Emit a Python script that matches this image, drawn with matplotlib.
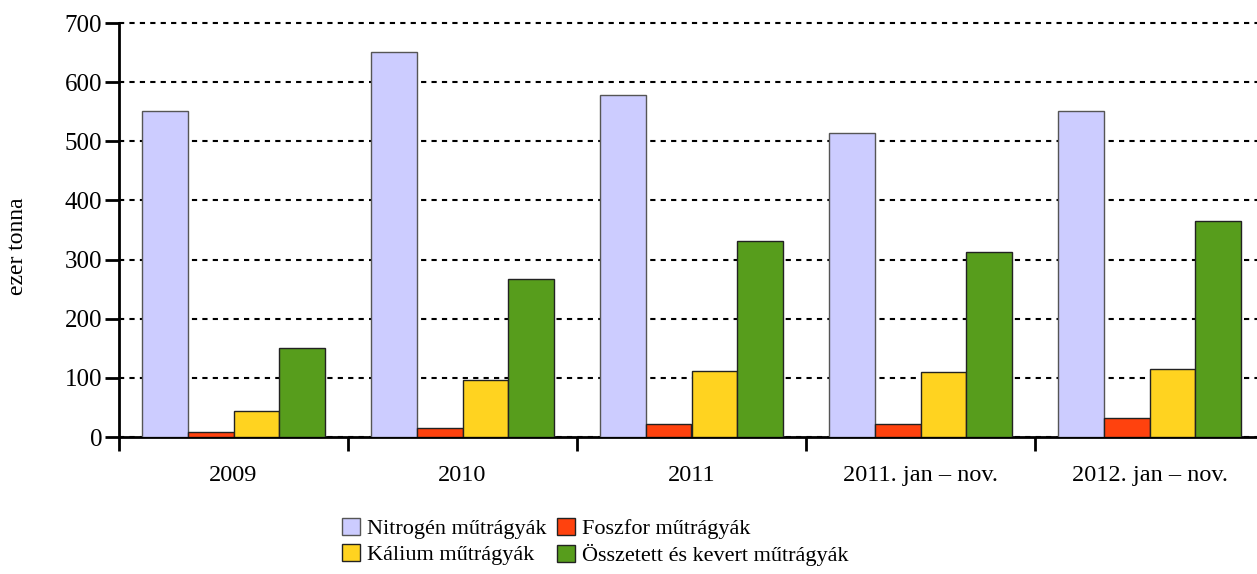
import matplotlib
matplotlib.use("Agg")
import matplotlib.pyplot as plt
import numpy as np

categories = ["2009", "2010", "2011", "2011. jan – nov.", "2012. jan – nov."]
series_names = ["Nitrogén műtrágyák", "Foszfor műtrágyák", "Kálium műtrágyák", "Összetett és kevert műtrágyák"]
nitrogen = [552, 651, 578, 514, 551]
foszfor = [9, 15, 22, 22, 32]
kalium = [44, 96, 112, 110, 115]
osszetett = [150, 267, 331, 313, 365]
colors = ["#CCCCFF", "#FF420E", "#FFD320", "#579D1C"]
edges = ["#555555", "#222222", "#222222", "#222222"]

plt.rcParams['font.family'] = ['Liberation Serif', 'DejaVu Serif']

fig = plt.figure(figsize=(12.57, 5.74), dpi=100)
ax = fig.add_axes([119/1257, 1-437/574, 1145/1257, (437-23)/574])

x = np.arange(len(categories))
w = 0.2
data = [nitrogen, foszfor, kalium, osszetett]
bars = []
for i, (vals, c, e, name) in enumerate(zip(data, colors, edges, series_names)):
    b = ax.bar(x - 0.3 + i * w, vals, w, color=c, edgecolor=e, linewidth=1.0, label=name, zorder=3)
    bars.append(b)

ax.set_xlim(-0.5, len(categories) - 0.5)
ax.set_ylim(0, 700)
ax.set_yticks(range(0, 701, 100))
ax.yaxis.grid(True, color='black', linestyle=(0, (2.5, 2.5)), linewidth=1.5, zorder=0)
for gl in ax.get_ygridlines():
    gl.set_clip_on(False)
ax.set_axisbelow(True)

ax.set_xticks(np.arange(-0.5, len(categories), 1.0))
ax.set_xticklabels([])
ax.set_xticks(x, minor=True)
ax.set_xticklabels(categories, minor=True)
ax.tick_params(axis='x', which='major', direction='out', length=10, width=2, color='black')
ax.tick_params(axis='x', which='minor', length=0, labelsize=17.5, pad=20)
ax.tick_params(axis='y', direction='out', length=10, width=2, labelsize=18, pad=2)

for s in ['top', 'right']:
    ax.spines[s].set_visible(False)
for s in ['left', 'bottom']:
    ax.spines[s].set_linewidth(2)
    ax.spines[s].set_color('black')

fig.text(18/1257, 1-246/574, "ezer tonna", rotation=90, ha='center', va='center', fontsize=17)

order = [0, 2, 1, 3]
leg = fig.legend([bars[i] for i in order], [series_names[i] for i in order], ncol=2,
                 loc='upper left', bbox_to_anchor=(331/1257, 1-507/574),
                 frameon=False, fontsize=16, handlelength=0.8, handleheight=0.8,
                 handletextpad=0.3, columnspacing=0.5, labelspacing=0.2, borderpad=0)

fig.savefig("out.png", dpi=100)
